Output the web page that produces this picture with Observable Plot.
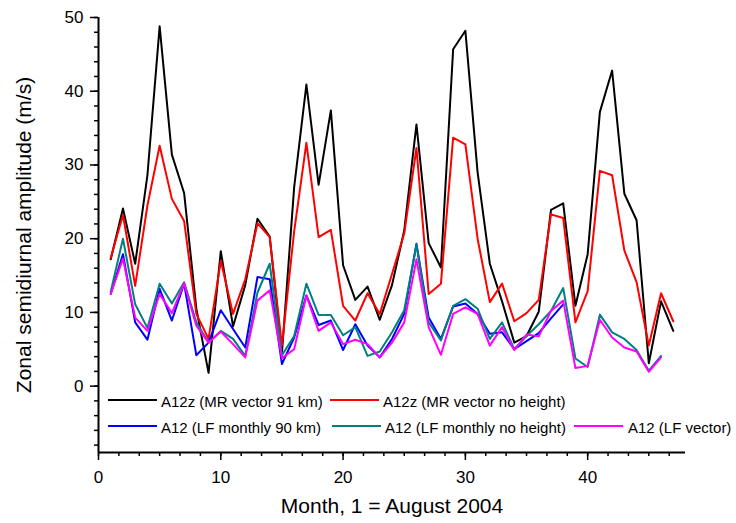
<!DOCTYPE html>
<html><head><meta charset="utf-8">
<script src="https://cdn.jsdelivr.net/npm/d3@7"></script>
<script src="https://cdn.jsdelivr.net/npm/@observablehq/plot@0.6"></script>
<style>
body{margin:0;background:#fff;font-family:"Liberation Sans",Arial,sans-serif;}
#wrap{position:relative;width:736px;height:523px;}
.lg{position:absolute;font-size:15px;line-height:15px;white-space:nowrap;color:#000;}
.sw{position:absolute;height:2px;width:49px;}
</style></head><body><div id="wrap"></div>
<script>
const months = [1,2,3,4,5,6,7,8,9,10,11,12,13,14,15,16,17,18,19,20,21,22,23,24,25,26,27,28,29,30,31,32,33,34,35,36,37,38,39,40,41,42,43,44,45,46,47];
const a12zMR91 = [17.2,24.1,16.6,28.6,48.8,31.4,26.2,10.5,1.8,18.3,8.1,13.7,22.7,20.3,4.5,27.0,40.9,27.3,37.4,16.4,11.7,13.5,9.0,13.7,21.1,35.5,19.4,16.1,45.7,48.2,29.0,16.6,11.5,5.9,6.8,10.1,23.9,24.8,10.9,17.9,37.2,42.8,26.1,22.5,3.1,11.5,7.5];
const a12zMRnoH = [17.4,23.2,13.6,24.5,32.6,25.4,22.4,9.8,6.4,17.0,9.8,14.5,22.1,20.2,5.5,21.0,33.0,20.2,21.2,10.9,8.9,12.6,9.8,15.2,20.7,32.3,12.5,13.9,33.7,32.8,20.0,11.4,13.9,8.8,9.9,11.7,23.3,22.8,8.65,12.9,29.2,28.6,18.4,14.1,5.5,12.6,8.8];
const a12LF90 = [12.5,17.9,8.65,6.3,13.2,8.9,13.9,4.2,5.9,10.3,7.75,5.25,14.8,14.5,3.0,6.6,12.3,8.3,8.9,4.9,8.4,5.5,3.9,6.4,9.8,19.3,9.3,6.4,10.8,11.2,9.8,7.1,7.3,5.0,6.1,7.2,9.2,11.1];
const a12LFnoH = [12.8,20.0,11.1,7.9,13.9,11.2,14.1,8.65,5.9,7.5,6.4,4.1,12.7,16.6,4.2,6.8,13.9,9.65,9.65,6.9,8.0,4.1,4.7,7.3,10.3,19.2,8.65,6.2,10.9,11.8,10.5,6.4,8.65,5.0,6.8,8.4,10.2,13.3,3.75,2.6,9.7,7.3,6.4,4.9,2.1,4.1];
const a12LFvec = [12.5,17.3,9.3,7.5,12.5,9.9,13.95,8.2,5.9,7.4,5.7,3.9,11.6,13.0,3.8,5.0,12.3,7.5,8.65,5.7,6.3,5.7,3.9,5.9,8.65,17.2,8.0,4.25,9.8,10.7,9.8,5.5,8.0,4.9,7.0,6.75,10.2,11.6,2.45,2.75,9.0,6.6,5.25,4.7,1.95,3.9];

const seriesNames = ["A12z (MR vector 91 km)","A12z (MR vector no height)","A12 (LF monthly 90 km)","A12 (LF monthly no height)","A12 (LF vector)"];
const seriesValues = [a12zMR91, a12zMRnoH, a12LF90, a12LFnoH, a12LFvec];
const seriesColors = ["#000000","#ff0000","#0000ff","#008080","#ff00ff"];

const xMajor = [0,10,20,30,40];
const xMinor = d3.range(0, 48, 10/6);
const yMajor = [0,10,20,30,40,50];
const yMinor = d3.range(-8, 51, 2);
const xDomain = [0, 48];
const yDomain = [-9, 50];
const xTitle = "Month, 1 = August 2004";
const yTitle = "Zonal semidiurnal amplitude (m/s)";

const rows = [];
seriesNames.forEach((name, s) => {
  seriesValues[s].forEach((v, i) => rows.push({series: name, month: months[i], value: v}));
});

const font = "Liberation Sans, Arial, sans-serif";
const chart = Plot.plot({
  width: 736, height: 523,
  marginLeft: 98, marginRight: 51, marginTop: 17, marginBottom: 71,
  x: {domain: xDomain},
  y: {domain: yDomain},
  color: {domain: seriesNames, range: seriesColors},
  style: {fontFamily: font, background: "#fff", color: "#000", overflow: "visible"},
  marks: [
    Plot.axisX(xMinor, {tickSize: 4, strokeWidth: 1.5, tickFormat: () => "", label: null}),
    Plot.axisX(xMajor, {tickSize: 8, strokeWidth: 1.5, tickPadding: 10, fontSize: 17, label: null}),
    Plot.axisY(yMinor, {tickSize: 4, strokeWidth: 1.5, tickFormat: () => "", label: null}),
    Plot.axisY(yMajor, {tickSize: 8, strokeWidth: 1.5, tickPadding: 7, fontSize: 17, label: null}),
    Plot.ruleX([xDomain[0]], {strokeWidth: 2}),
    Plot.ruleY([yDomain[0]], {strokeWidth: 2}),
    Plot.line(rows, {x: "month", y: "value", z: "series", stroke: "series", strokeWidth: 2}),
    Plot.text([xTitle], {text: d => d, frameAnchor: "bottom", dy: 60, lineAnchor: "bottom", textAnchor: "middle", fontSize: 21}),
    Plot.text([yTitle], {text: d => d, frameAnchor: "left", dx: -68, rotate: -90, lineAnchor: "bottom", textAnchor: "middle", fontSize: 21})
  ]
});
const wrap = document.getElementById("wrap");
wrap.appendChild(chart);

// legend overlay
const legendItems = [
  {s: 0, sw: [108, 399], tx: [161, 394]},
  {s: 1, sw: [330, 399], tx: [383, 394]},
  {s: 2, sw: [108, 425], tx: [161, 420]},
  {s: 3, sw: [332, 425], tx: [385, 420]},
  {s: 4, sw: [574, 425], tx: [628, 420]}
];
legendItems.forEach(it => {
  const sw = document.createElement("div");
  sw.className = "sw";
  sw.style.left = it.sw[0] + "px"; sw.style.top = it.sw[1] + "px";
  sw.style.background = seriesColors[it.s];
  wrap.appendChild(sw);
  const t = document.createElement("div");
  t.className = "lg";
  t.style.left = it.tx[0] + "px"; t.style.top = it.tx[1] + "px";
  t.textContent = seriesNames[it.s];
  wrap.appendChild(t);
});
</script></body></html>
